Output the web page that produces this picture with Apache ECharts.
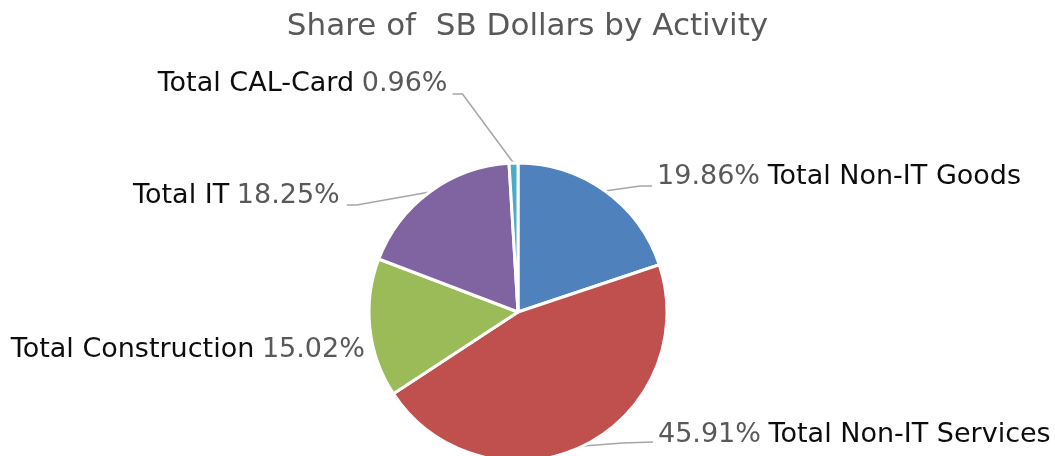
<!DOCTYPE html>
<html>
<head>
<meta charset="utf-8">
<script src="https://cdn.jsdelivr.net/npm/echarts@6/dist/echarts.min.js"></script>
<style>
html,body{margin:0;padding:0;background:#fff;}
#chart{width:1055px;height:456px;}
</style>
</head>
<body>
<div id="chart"></div>
<script>
// ---- data ----
const categories = ['Total Non-IT Goods', 'Total Non-IT Services', 'Total Construction', 'Total IT', 'Total CAL-Card'];
const shares = [19.86, 45.91, 15.02, 18.25, 0.96];
const colors = ['#4F81BD', '#C0504D', '#9BBB59', '#8064A2', '#4BACC6'];
const titleText = 'Share of  SB Dollars by Activity';

// label placement relative to the slice's edge anchor (computed by the library)
// [elbowDx, elbowDy, endDx, endDy, labelDx, labelDy, align, showLine, percentFirst]
const labelPlacement = [
  [35, -5, 47, -5, 52, -14, 'left', true, true],
  [40, -3, 70, -4, 75, -11, 'left', true, true],
  [0, 0, 0, 0, -5, 22, 'right', false, false],
  [-73, 13, -83, 13, -90, 4, 'right', true, false],
  [-51, -69, -61, -69, -66, -79, 'right', true, false]
];

const FONT = 'DejaVu Sans';
const chart = echarts.init(document.getElementById('chart'), null, {renderer: 'canvas'});

const data = categories.map((c, i) => ({
  name: c,
  value: shares[i],
  itemStyle: {color: colors[i]},
  label: {
    formatter: labelPlacement[i][8]
      ? '{p|' + shares[i].toFixed(2) + '%}  {n|' + c + '}'
      : '{n|' + c + '}  {p|' + shares[i].toFixed(2) + '%}'
  },
  labelLine: {show: labelPlacement[i][7]}
}));

chart.setOption({
  animation: false,
  backgroundColor: '#ffffff',
  title: {
    text: titleText,
    left: 'center',
    top: 6,
    textStyle: {fontFamily: FONT, fontSize: 31, fontWeight: 'normal', color: '#595959'}
  },
  series: [{
    type: 'pie',
    center: [518, 312],
    radius: 149,
    startAngle: 90,
    clockwise: true,
    avoidLabelOverlap: false,
    itemStyle: {borderColor: '#ffffff', borderWidth: 3},
    label: {
      show: true,
      position: 'outside',
      fontFamily: FONT,
      rich: {
        p: {fontFamily: FONT, fontSize: 27, color: '#595959'},
        n: {fontFamily: FONT, fontSize: 27, color: '#0d0d0d'}
      }
    },
    labelLine: {show: true, length: 10, length2: 10, lineStyle: {color: '#A6A6A6', width: 1.5}},
    labelLayout: function (params) {
      const cfg = labelPlacement[params.dataIndex];
      const pts = params.labelLinePoints;
      if (!pts) return {};
      const a = pts[0];
      const out = {
        x: a[0] + cfg[4],
        y: a[1] + cfg[5],
        align: cfg[6],
        verticalAlign: 'middle'
      };
      if (cfg[7]) {
        out.labelLinePoints = [
          [a[0], a[1]],
          [a[0] + cfg[0], a[1] + cfg[1]],
          [a[0] + cfg[2], a[1] + cfg[3]]
        ];
      }
      return out;
    },
    data: data
  }]
});
</script>
</body>
</html>
